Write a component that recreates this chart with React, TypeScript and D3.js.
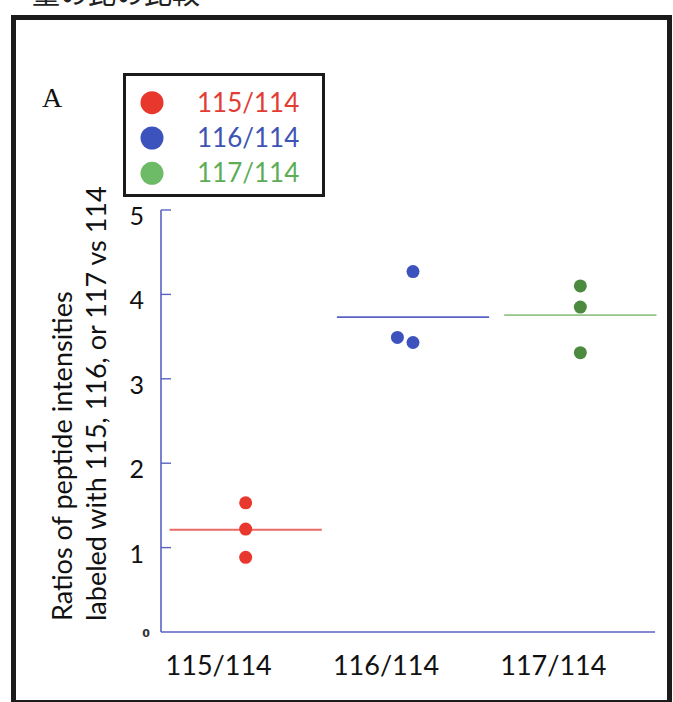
import React from 'react';
import * as d3 from 'd3';

// 系列 (カテゴリ)
const categories = ['115/114', '116/114', '117/114'];
// 各カテゴリの測定値 (3 反復)
const ratios115 = [1.53, 1.22, 0.885];
const ratios116 = [4.27, 3.43, 3.49];
const ratios117 = [4.1, 3.85, 3.31];
const yTicks = [1, 2, 3, 4, 5];

const dotColors = ['#e8372c', '#3c53bd', '#4b8a3f'];
const meanColors = ['#ea6a66', '#5a62c4', '#96c487'];
const legendDotColors = ['#e8372c', '#3c53bd', '#6dbb66'];
const legendTextColors = ['#e23c34', '#3d54b4', '#5dad58'];
const axisColor = '#5a62c4';

const App: React.FC = () => {
  const svgRef = React.useRef<SVGSVGElement>(null);
  const width = 673;
  const height = 702;

  React.useEffect(() => {
    if (!svgRef.current) return;
    const svg = d3.select(svgRef.current);
    svg.selectAll('*').remove();

    const series = [ratios115, ratios116, ratios117];
    const margin = { left: 161, right: 9, top: 210, bottom: 70 };
    const plotBottom = height - margin.bottom;

    // 外枠
    svg.append('rect')
      .attr('x', 13.5).attr('y', 17.5)
      .attr('width', 656).attr('height', 685)
      .attr('fill', 'none')
      .attr('stroke', '#1b1b1b')
      .attr('stroke-width', 5);

    // 上部の切れた見出し
    svg.append('text')
      .attr('x', 32).attr('y', 4)
      .attr('font-family', '"Noto Sans CJK JP"')
      .attr('font-size', 28)
      .attr('fill', '#222')
      .text('量の比の比較');

    svg.append('text')
      .attr('x', 42).attr('y', 107)
      .attr('font-family', '"Liberation Serif", serif')
      .attr('font-size', 28)
      .attr('fill', '#111')
      .text('A');

    const xScale = d3.scaleBand<string>()
      .domain(categories)
      .range([margin.left + 1, width - 9])
      .padding(0);

    const yScale = d3.scaleLinear()
      .domain([0, 5])
      .range([plotBottom, margin.top]);

    const g = svg.append('g');

    // 軸
    g.append('line')
      .attr('x1', margin.left).attr('x2', margin.left)
      .attr('y1', yScale(5)).attr('y2', yScale(0))
      .attr('stroke', axisColor).attr('stroke-width', 1.6);
    g.append('line')
      .attr('x1', margin.left).attr('x2', width - 18)
      .attr('y1', yScale(0)).attr('y2', yScale(0))
      .attr('stroke', axisColor).attr('stroke-width', 1.6);

    g.selectAll('.ytick')
      .data(yTicks)
      .enter().append('line')
      .attr('class', 'ytick')
      .attr('x1', margin.left).attr('x2', margin.left + 10)
      .attr('y1', d => yScale(d)).attr('y2', d => yScale(d))
      .attr('stroke', axisColor).attr('stroke-width', 1.4);

    g.selectAll('.ylabel')
      .data(yTicks)
      .enter().append('text')
      .attr('class', 'ylabel')
      .attr('x', margin.left - 17)
      .attr('y', d => yScale(d) + 15)
      .attr('text-anchor', 'end')
      .attr('font-family', 'Lato, sans-serif')
      .attr('font-size', 25)
      .attr('fill', '#111')
      .text(d => d);

    g.append('text')
      .attr('x', margin.left - 11)
      .attr('y', yScale(0) + 5)
      .attr('text-anchor', 'end')
      .attr('font-family', '"DejaVu Sans", sans-serif')
      .attr('font-weight', 'bold')
      .attr('font-size', 11)
      .attr('fill', '#333')
      .text('0');

    // Y 軸タイトル (2 行)
    const titleLines = ['Ratios of peptide intensities', 'labeled with 115, 116, or 117 vs 114'];
    g.selectAll('.ytitle')
      .data(titleLines)
      .enter().append('text')
      .attr('class', 'ytitle')
      .attr('transform', (_d, i) => `translate(${72 + i * 34},621) rotate(-90)`)
      .attr('font-family', 'Lato, sans-serif')
      .attr('font-size', 27)
      .attr('fill', '#111')
      .text(d => d);

    // X 軸ラベル
    g.selectAll('.xlabel')
      .data(categories)
      .enter().append('text')
      .attr('class', 'xlabel')
      .attr('x', d => (xScale(d) || 0) + xScale.bandwidth() / 2 - 27)
      .attr('y', yScale(0) + 43)
      .attr('text-anchor', 'middle')
      .attr('font-family', 'Lato, sans-serif')
      .attr('font-size', 27)
      .attr('fill', '#111')
      .text(d => d);

    // 平均線
    const bw = xScale.bandwidth();
    categories.forEach((cat, i) => {
      const cx = (xScale(cat) || 0) + bw / 2;
      const mean = d3.mean(series[i]) || 0;
      g.append('line')
        .attr('x1', cx - bw * 0.455).attr('x2', cx + bw * 0.455)
        .attr('y1', yScale(mean)).attr('y2', yScale(mean))
        .attr('stroke', meanColors[i]).attr('stroke-width', 1.8);
    });

    // 点 (重なりは左へずらす)
    const r = 6.5;
    categories.forEach((cat, i) => {
      const cx = (xScale(cat) || 0) + bw / 2;
      const placed: { x: number; y: number }[] = [];
      series[i].forEach(v => {
        const y = yScale(v);
        let x = cx;
        while (placed.some(p => Math.hypot(p.x - x, p.y - y) < r * 2)) x -= r * 2.4;
        placed.push({ x, y });
      });
      g.selectAll(`.dot-${i}`)
        .data(placed)
        .enter().append('circle')
        .attr('class', `dot-${i}`)
        .attr('cx', d => d.x).attr('cy', d => d.y)
        .attr('r', r)
        .attr('fill', dotColors[i]);
    });

    // 凡例
    const legend = svg.append('g');
    legend.append('rect')
      .attr('x', 124.5).attr('y', 74.5)
      .attr('width', 199).attr('height', 121)
      .attr('fill', '#fff')
      .attr('stroke', '#1b1b1b')
      .attr('stroke-width', 3);
    categories.forEach((cat, i) => {
      const cy = 102.7 + i * 35.3;
      legend.append('circle')
        .attr('cx', 152).attr('cy', cy).attr('r', 11.5)
        .attr('fill', legendDotColors[i]);
      legend.append('text')
        .attr('x', 197).attr('y', cy + 9)
        .attr('font-family', 'Lato, sans-serif')
        .attr('font-size', 26)
        .attr('fill', legendTextColors[i])
        .text(cat);
    });
  }, []);

  return (
    <svg
      ref={svgRef}
      width={width}
      height={height}
      style={{ position: 'absolute', left: 0, top: 0, display: 'block', background: '#fff' }}
    />
  );
};

export default App;
